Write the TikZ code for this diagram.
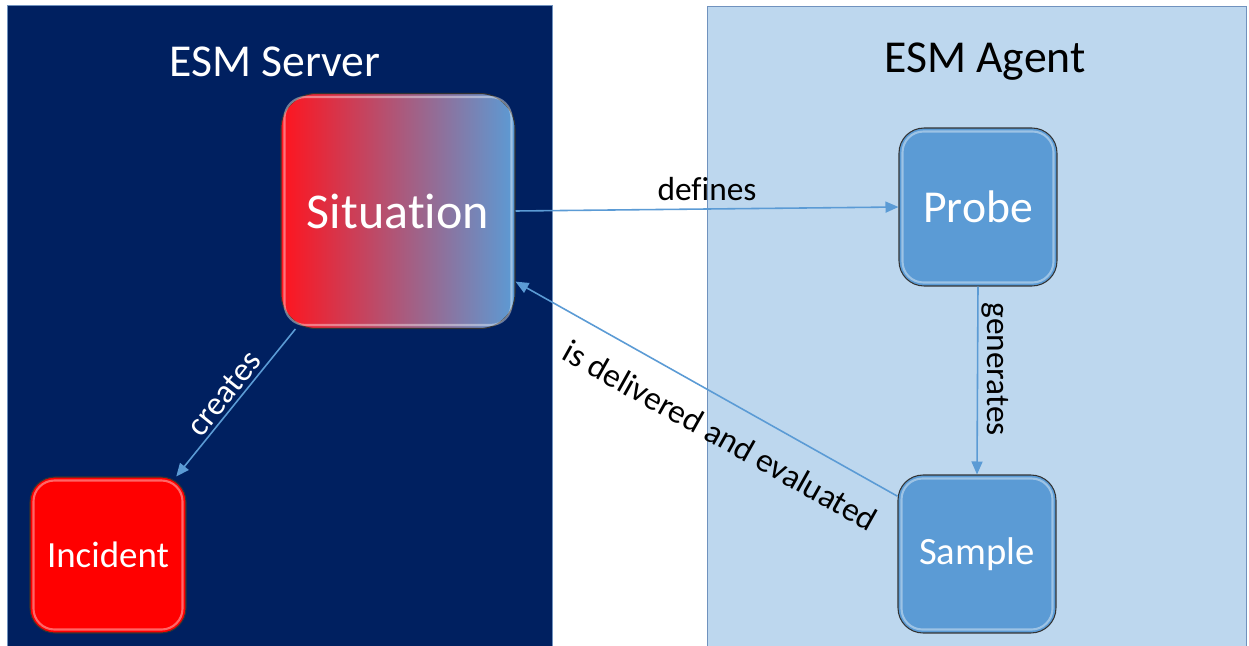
\documentclass[tikz,border=0pt]{standalone}
\usepackage{fontspec}
\setmainfont{Carlito}[Ligatures={NoCommon}]
\usetikzlibrary{arrows.meta}
\usetikzlibrary{calc}

\definecolor{esmnavy}{RGB}{0,32,96}
\definecolor{esmpale}{RGB}{189,215,238}
\definecolor{esmblue}{RGB}{91,155,213}
\definecolor{esmred}{RGB}{255,0,0}
\definecolor{esmhot}{RGB}{255,20,30}
\definecolor{esmedge}{RGB}{112,146,190}

\begin{document}
\begin{tikzpicture}[x=0.02cm,y=-0.02cm,
  box/.style={draw=black!80,line width=0.6pt,rounded corners=0.5cm,
    minimum width=3.16cm,minimum height=3.16cm,inner sep=0pt,text=white},
  link/.style={draw=esmblue,line width=0.9pt,-{Triangle[length=0.26cm,width=0.22cm]}},
  lbl/.style={font=\fontsize{19}{22}\selectfont,inner sep=2pt},
  gloss/.style={draw=white,opacity=0.4,line width=1.2pt,rounded corners=0.42cm}]
  \useasboundingbox (0,0) rectangle (1249,646);
  \fill[white] (0,0) rectangle (1249,646);
  \filldraw[fill=esmnavy,draw=esmedge] (7,5) rectangle (552,650);
  \filldraw[fill=esmpale,draw=esmedge] (707,6) rectangle (1246,650);

  \node[text=white,font=\fontsize{26}{30}\selectfont] (srv) at (275,62) {ESM Server};
  \node[font=\fontsize{26}{30}\selectfont] (agt) at (985,62) {ESM Agent};

  \node[box,minimum width=4.68cm,minimum height=4.7cm,rounded corners=0.7cm,
    left color=esmhot,right color=esmblue,font=\fontsize{28.5}{32}\selectfont] (sit) at (398,211) {Situation};
  \node[box,fill=esmred,minimum width=3.12cm,minimum height=3.12cm,
    font=\fontsize{21}{25}\selectfont] (inc) at (108,555) {Incident};
  \node[box,fill=esmblue,font=\fontsize{26}{30}\selectfont] (prb) at (978,207) {Probe};
  \node[box,fill=esmblue,font=\fontsize{22}{26}\selectfont] (smp) at (977,554) {Sample};

  \foreach \n in {sit,inc,prb,smp}
    \draw[gloss] ($(\n.south west)+(4,-4)$) rectangle ($(\n.north east)+(-4,4)$);

  \draw[link] (sit.east) -- node[lbl,midway,above=2pt] {defines} (prb.west);
  \draw[link] (sit.229.8) -- node[lbl,midway,sloped,above,text=white] {creates} (inc.49);
  \draw[link] (prb.south) -- node[lbl,pos=0.44,rotate=-90,anchor=south] {generates} (smp.north);
  \draw[link] (smp.144) -- node[lbl,pos=0.42,sloped,below=10pt] {is delivered and evaluated} (sit.-31.6);
\end{tikzpicture}
\end{document}
